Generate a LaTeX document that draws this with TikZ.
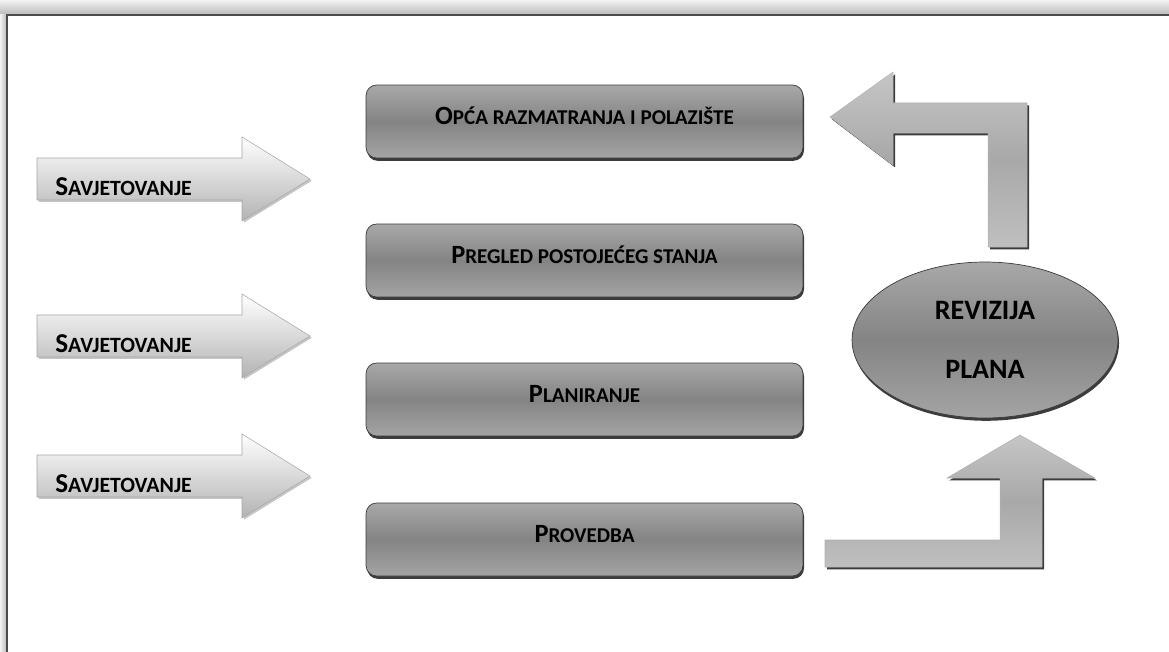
\documentclass[tikz,border=0pt]{standalone}
\usepackage{fontspec}
\setmainfont{Carlito}
\usepackage{tikz}
\usetikzlibrary{positioning}
\usetikzlibrary{shapes.geometric}
\usetikzlibrary{shadows}
\usetikzlibrary{math}

\definecolor{boxtop}{HTML}{A8A8A8}
\definecolor{boxmid}{HTML}{848484}
\definecolor{boxbot}{HTML}{A4A4A4}
\definecolor{rimgray}{HTML}{3C3C3C}

% fake small caps: first letter large, rest small
\newcommand{\boxcaps}[2]{\raisebox{3.4pt}[\height][\depth]{{\fontsize{15}{17}\selectfont #1}{\fontsize{12}{14}\selectfont #2}}}
\newcommand{\arrowcaps}[2]{{\fontsize{15.5}{18}\selectfont #1}{\fontsize{12.4}{14}\selectfont #2}}

\tikzset{
  stagebox/.style={draw=rimgray, line width=0.4pt, rounded corners=6pt,
    minimum width=8.74cm, minimum height=1.46cm,
    top color=boxtop, bottom color=boxbot, middle color=boxmid,
    drop shadow={shadow xshift=0.6pt, shadow yshift=-1.6pt, fill=rimgray, opacity=1},
    font=\bfseries},
  sidearrow/.style={draw=gray!70, line width=0.3pt,
    top color=white, bottom color=gray!60,
    drop shadow={shadow xshift=1pt, shadow yshift=-1pt, fill=gray!45, opacity=1}},
  bentarrow/.style={draw=gray!60, line width=0.3pt,
    top color=gray!45, bottom color=gray!50, middle color=gray!68,
    drop shadow={shadow xshift=1.2pt, shadow yshift=-1.4pt, fill=rimgray, opacity=1}},
  arrowlabel/.style={anchor=base west, inner sep=0pt, font=\bfseries},
}

\begin{document}
\begin{tikzpicture}[x=0.02cm, y=-0.02cm]

  \tikzmath{
    \bodyhalf = 21;  % half height of arrow body
    \headhalf = 42;  % half height of arrow head
    \tailx    = 37;  % left end of side arrows
    \neckx    = 242; % start of arrow head
    \tipx     = 310; % tip of side arrows
  }

  \useasboundingbox (0,0) rectangle (1169,652);

  % window frame
  \shade[top color=gray!10, bottom color=gray!55] (0,0) rectangle (1169,15);
  \shade[left color=gray!10, right color=gray!55] (0,15) rectangle (7,652);
  \draw[gray!60!black, line width=1.2pt] (7,652) -- (7,15) -- (1169,15);

  % stages
  \node[stagebox] (opca)     at (584.5,121.5) {\boxcaps{O}{PĆA RAZMATRANJA I POLAZIŠTE}};
  \node[stagebox] (pregled)  at (584.5,260.5) {\boxcaps{P}{REGLED POSTOJEĆEG STANJA}};
  \node[stagebox] (planir)   at (584.5,399.5) {\boxcaps{P}{LANIRANJE}};
  \node[stagebox] (provedba) at (584.5,539.5) {\boxcaps{P}{ROVEDBA}};

  % consultation arrows
  \foreach \yc/\name in {179/sav1, 336/sav2, 476/sav3} {
    \path[sidearrow] (\tailx,\yc-\bodyhalf) -- (\neckx,\yc-\bodyhalf)
      -- (\neckx,\yc-\headhalf) -- (\tipx,\yc) -- (\neckx,\yc+\headhalf)
      -- (\neckx,\yc+\bodyhalf) -- (\tailx,\yc+\bodyhalf) -- cycle;
    \node[arrowlabel] (\name) at (55,\yc+16) {\arrowcaps{S}{AVJETOVANJE}};
  }

  % revision of the plan
  \node[ellipse, draw=rimgray, line width=0.4pt,
    minimum width=5.32cm, minimum height=3.12cm,
    top color=boxtop, bottom color=boxbot, middle color=boxmid,
    drop shadow={shadow xshift=0.6pt, shadow yshift=-1.6pt, fill=rimgray, opacity=1},
    font=\bfseries\fontsize{16}{19}\selectfont, align=center]
    (revizija) at (985,340) {REVIZIJA\\[15pt]PLANA};

  % bent arrow back to the start
  \path[bentarrow] (830,117) -- (893,72) -- (893,103) -- (1027,103)
    -- (1027,247) -- (988,247) -- (988,133) -- (893,133) -- (893,165) -- cycle;

  % bent arrow from implementation
  \path[bentarrow] (825,540) -- (1000,540) -- (1000,478) -- (947,478)
    -- (1020,435) -- (1095,478) -- (1042,478) -- (1042,567) -- (825,567) -- cycle;

\end{tikzpicture}
\end{document}
